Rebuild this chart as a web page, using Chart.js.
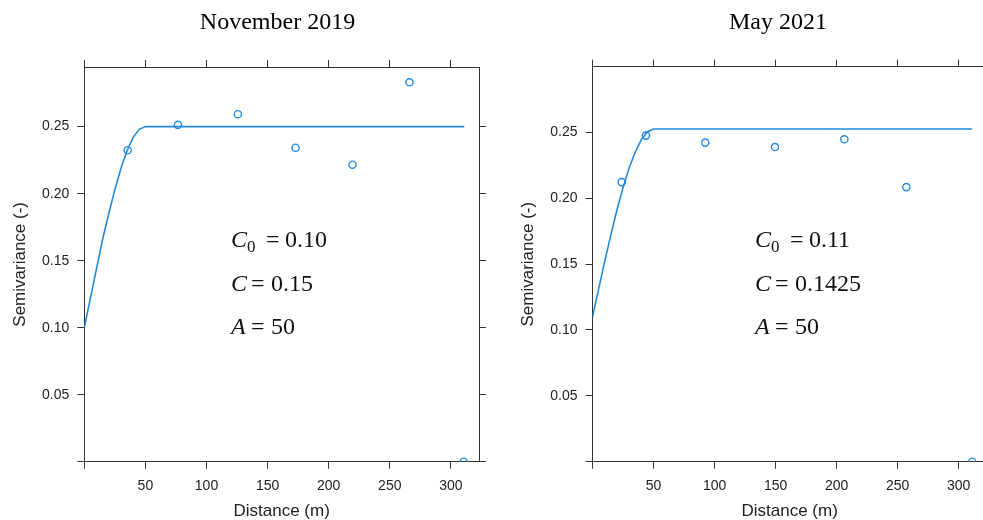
<!DOCTYPE html>
<html>
<head>
<meta charset="utf-8">
<title>Semivariograms</title>
<script src="https://cdn.jsdelivr.net/npm/chart.js@4.4.1/dist/chart.umd.min.js"></script>
<style>
  html, body { margin: 0; padding: 0; background: #fff; overflow: hidden; }
  body { width: 983px; height: 520px; position: relative; }
  .panel { position: absolute; top: 0; }
</style>
</head>
<body>
<div class="panel" style="left:0px"><canvas id="nov" width="555" height="520"></canvas></div>
<div class="panel" style="left:500px"><canvas id="may" width="556" height="520"></canvas></div>
<script>
// experimental semivariance, November 2019
const distNov = [35.5, 76.6, 125.7, 172.9, 219.5, 266.1, 310.5];
const gammaNov = [0.2324, 0.2513, 0.2593, 0.2343, 0.2216, 0.2831, 0];

// experimental semivariance, May 2021
const distMay = [23.9, 43.8, 92.4, 149.5, 206.3, 257.1, 311.1];
const gammaMay = [0.2122, 0.2475, 0.2422, 0.2388, 0.2447, 0.2084, 0];

// fitted model curves
const fitDist = [0, 5, 10, 15, 20, 25, 30, 35, 40, 45, 50, 311];
const fitNov = [0.100, 0.122, 0.144, 0.166, 0.185, 0.203, 0.219, 0.232, 0.242, 0.248, 0.250, 0.250];
const fitMay = [0.110, 0.131, 0.152, 0.172, 0.191, 0.208, 0.223, 0.235, 0.2445, 0.2505, 0.2525, 0.2525];

// model parameters shown in the plots
const paramsNov = ['0.10', '0.15', '50'];
const paramsMay = ['0.11', '0.1425', '50'];

const xTicks = [0, 50, 100, 150, 200, 250, 300];

const BLUE = '#2389dc';
const AXIS = '#333';
const SANS = '"Liberation Sans", Arial, sans-serif';
const SERIF = '"Liberation Serif", "Times New Roman", serif';

const toPoints = (xs, ys) => xs.map((x, i) => ({ x: x, y: ys[i] }));

// draws the C0 / C / A text block inside the plot
const paramsPlugin = {
  id: 'params',
  afterDraw(chart, args, opts) {
    const ctx = chart.ctx;
    const x0 = opts.x;
    const base = [247, 291, 334];
    const big = '24px ' + SERIF;
    const ital = 'italic 24px ' + SERIF;
    ctx.save();
    ctx.fillStyle = '#111';
    ctx.textBaseline = 'alphabetic';
    ctx.textAlign = 'left';
    // C0 line
    ctx.font = ital;
    ctx.fillText('C', x0, base[0]);
    ctx.font = '17px ' + SERIF;
    ctx.fillText('0', x0 + 16, base[0] + 5);
    ctx.font = big;
    ctx.fillText('=', x0 + 35, base[0]);
    ctx.fillText(opts.values[0], x0 + 54, base[0]);
    // C line
    ctx.font = ital;
    ctx.fillText('C', x0, base[1]);
    ctx.font = big;
    ctx.fillText('=', x0 + 20, base[1]);
    ctx.fillText(opts.values[1], x0 + 40, base[1]);
    // A line
    ctx.font = ital;
    ctx.fillText('A', x0, base[2]);
    ctx.font = big;
    ctx.fillText('=', x0 + 20, base[2]);
    ctx.fillText(opts.values[2], x0 + 40, base[2]);
    ctx.restore();
  }
};

function makeChart(id, cfg) {
  const fixW = w => s => { s.width = w; };
  const fixH = h => s => { s.height = h; };
  const tickGrid = { drawOnChartArea: false, drawTicks: true, tickLength: 7, color: AXIS, lineWidth: 1 };
  const border = { display: true, color: AXIS, width: 1 };
  const tickFont = { family: SANS, size: 14 };

  return new Chart(document.getElementById(id), {
    type: 'scatter',
    data: {
      datasets: [
        {
          label: 'model',
          data: toPoints(fitDist, cfg.fit),
          showLine: true,
          borderColor: BLUE,
          borderWidth: 1.6,
          pointRadius: 0,
          tension: 0
        },
        {
          label: 'sample',
          data: toPoints(cfg.dist, cfg.gamma),
          showLine: false,
          pointStyle: 'circle',
          pointRadius: 3.6,
          borderWidth: 1.4,
          borderColor: BLUE,
          backgroundColor: 'rgba(0,0,0,0)'
        }
      ]
    },
    options: {
      responsive: false,
      animation: false,
      layout: { padding: 0 },
      plugins: {
        legend: { display: false },
        tooltip: { enabled: false },
        title: {
          display: true,
          text: cfg.title,
          color: '#000',
          font: { family: SERIF, size: 24, weight: 'normal', lineHeight: 1 },
          padding: { top: 11, bottom: 0 }
        },
        params: { x: cfg.textX, values: cfg.params }
      },
      scales: {
        x: {
          type: 'linear', position: 'bottom', min: 0, max: 323,
          afterBuildTicks: s => { s.ticks = xTicks.map(v => ({ value: v })); },
          ticks: { color: '#222', font: tickFont, padding: 9, maxRotation: 0,
                   callback: v => (v === 0 ? '' : String(v)) },
          grid: tickGrid, border: border,
          title: { display: true, text: 'Distance (m)', color: '#222',
                   font: { family: SANS, size: 17, lineHeight: 1 }, padding: { top: 0, bottom: 0 } },
          afterFit: fixH(58.3)
        },
        x2: {
          type: 'linear', position: 'top', min: 0, max: 323,
          afterBuildTicks: s => { s.ticks = xTicks.map(v => ({ value: v })); },
          ticks: { display: false },
          grid: tickGrid, border: border,
          afterFit: fixH(cfg.top - 35)
        },
        y: {
          type: 'linear', position: 'left', min: 0, max: cfg.ymax,
          ticks: { stepSize: 0.05, includeBounds: false, color: '#222', font: tickFont, padding: 8,
                   callback: v => (v === 0 ? '' : v.toFixed(2)) },
          grid: tickGrid, border: border,
          title: { display: true, text: 'Semivariance (-)', color: '#222',
                   font: { family: SANS, size: 17, lineHeight: 1 }, padding: { top: cfg.yTitlePad, bottom: 0 } },
          afterFit: fixW(cfg.left)
        },
        y2: {
          type: 'linear', position: 'right', min: 0, max: cfg.ymax,
          ticks: { display: false, stepSize: 0.05, includeBounds: false },
          grid: tickGrid, border: border,
          afterFit: fixW(cfg.right)
        }
      }
    },
    plugins: [paramsPlugin]
  });
}

makeChart('nov', {
  title: 'November 2019',
  dist: distNov, gamma: gammaNov, fit: fitNov, params: paramsNov,
  ymax: 0.2945, top: 67, left: 84.3, right: 76, yTitlePad: 12, textX: 231
});

// right canvas starts at page x = 500, so text x is relative to that
makeChart('may', {
  title: 'May 2021',
  dist: distMay, gamma: gammaMay, fit: fitMay, params: paramsMay,
  ymax: 0.2998, top: 66.7, left: 92.5, right: 69.2, yTitlePad: 20, textX: 255
});
</script>
</body>
</html>
